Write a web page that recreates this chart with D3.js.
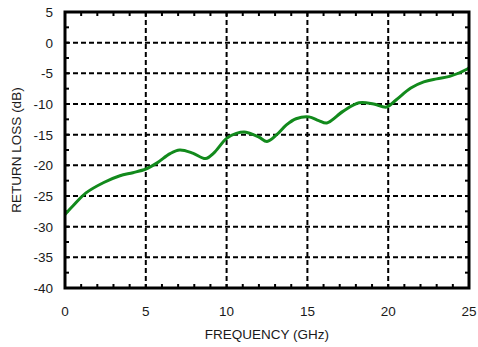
<!DOCTYPE html>
<html>
<head>
<meta charset="utf-8">
<script src="https://cdn.jsdelivr.net/npm/d3@7"></script>
<style>
  body { margin: 0; background: #fff; }
  svg text { font-family: "Liberation Sans", Arial, sans-serif; font-size: 13.5px; fill: #1a1a1a; }
</style>
</head>
<body>
<div id="chart"></div>
<script>
// frequency (GHz) and return loss (dB)
var freq = [0, 0.5, 1.3, 2.4, 3.4, 4.2, 5.0, 5.7, 6.5, 7.1, 7.9, 8.7, 9.2, 10.0, 10.6, 11.2, 12.0, 12.5, 13.1, 13.7, 14.3, 15.1, 15.7, 16.2, 17.2, 18.2, 19.1, 19.9, 20.5, 21.4, 22.2, 23.0, 23.8, 24.9, 25];
var loss = [-28, -26.6, -24.5, -22.8, -21.7, -21.2, -20.6, -19.6, -18.1, -17.5, -18.0, -18.9, -18.0, -15.6, -14.8, -14.6, -15.4, -16.1, -15.0, -13.4, -12.4, -12.1, -12.7, -13.1, -11.2, -9.8, -10.0, -10.5, -9.3, -7.4, -6.4, -5.9, -5.5, -4.3, -4.1];

var xTicks = [0, 5, 10, 15, 20, 25];
var yTicks = [5, 0, -5, -10, -15, -20, -25, -30, -35, -40];

var width = 478, height = 347;
var pLeft = 65, pRight = 469, pTop = 12, pBottom = 288;

var svg = d3.select("#chart")
  .append("svg")
  .attr("width", width)
  .attr("height", height)

var x = d3.scaleLinear().domain([0, 25]).range([pLeft, pRight])
var y = d3.scaleLinear().domain([-40, 5]).range([pBottom, pTop])

// dashed grid
svg.append("g")
  .selectAll("line")
  .data(xTicks.filter(function(d) { return d > 0 && d < 25 }))
  .enter()
  .append("line")
  .attr("x1", function(d) { return x(d) })
  .attr("x2", function(d) { return x(d) })
  .attr("y1", pTop)
  .attr("y2", pBottom)
  .style("stroke", "black")
  .style("stroke-width", 2)
  .style("stroke-dasharray", "5,3")

svg.append("g")
  .selectAll("line")
  .data(yTicks.filter(function(d) { return d < 5 && d > -40 }))
  .enter()
  .append("line")
  .attr("x1", pLeft)
  .attr("x2", pRight)
  .attr("y1", function(d) { return y(d) })
  .attr("y2", function(d) { return y(d) })
  .style("stroke", "black")
  .style("stroke-width", 2)
  .style("stroke-dasharray", "5,3")

// minor ticks inside the frame
var minorX = d3.range(1, 25)
var minorY = d3.range(-37.5, 5, 2.5)
var ticks = svg.append("g").style("stroke", "black").style("stroke-width", 2)
minorX.forEach(function(d) {
  ticks.append("line").attr("x1", x(d)).attr("x2", x(d)).attr("y1", pBottom).attr("y2", pBottom - 4)
  ticks.append("line").attr("x1", x(d)).attr("x2", x(d)).attr("y1", pTop).attr("y2", pTop + 4)
})
minorY.forEach(function(d) {
  ticks.append("line").attr("x1", pLeft).attr("x2", pLeft + 4).attr("y1", y(d)).attr("y2", y(d))
  ticks.append("line").attr("x1", pRight).attr("x2", pRight - 4).attr("y1", y(d)).attr("y2", y(d))
})

// curve
var line = d3.line()
  .x(function(d, i) { return x(freq[i]) })
  .y(function(d) { return y(d) })
  .curve(d3.curveCatmullRom)

svg.append("path")
  .datum(loss)
  .attr("d", line)
  .style("fill", "none")
  .style("stroke", "#128a1c")
  .style("stroke-width", 3)
  .style("stroke-linejoin", "round")

// frame
svg.append("rect")
  .attr("x", pLeft)
  .attr("y", pTop)
  .attr("width", pRight - pLeft)
  .attr("height", pBottom - pTop)
  .style("fill", "none")
  .style("stroke", "black")
  .style("stroke-width", 3)

// tick labels
svg.append("g")
  .selectAll("text")
  .data(xTicks)
  .enter()
  .append("text")
  .attr("x", function(d) { return x(d) })
  .attr("y", 316)
  .attr("text-anchor", "middle")
  .text(function(d) { return d })

svg.append("g")
  .selectAll("text")
  .data(yTicks)
  .enter()
  .append("text")
  .attr("x", 53)
  .attr("y", function(d) { return y(d) + 5 })
  .attr("text-anchor", "end")
  .text(function(d) { return d })

svg.append("text")
  .attr("x", (pLeft + pRight) / 2)
  .attr("y", 339)
  .attr("text-anchor", "middle")
  .text("FREQUENCY (GHz)")

svg.append("text")
  .attr("transform", "translate(21," + ((pTop + pBottom) / 2) + ") rotate(-90)")
  .attr("text-anchor", "middle")
  .text("RETURN LOSS (dB)")
</script>
</body>
</html>
